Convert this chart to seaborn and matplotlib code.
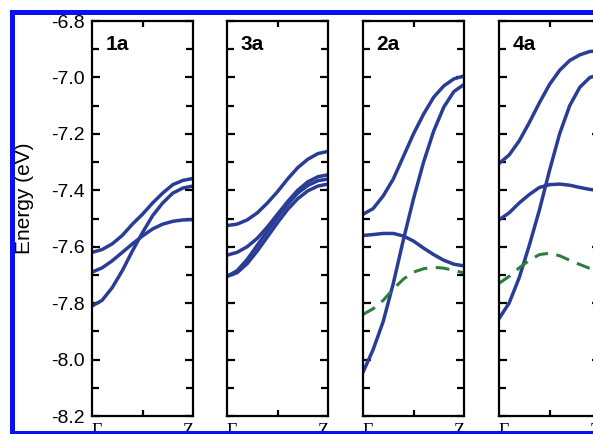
import pandas as pd
import seaborn as sns
import matplotlib.pyplot as plt
from matplotlib.patches import Rectangle
from matplotlib.ticker import MultipleLocator, FixedLocator

# k-path from Gamma (0) to Z (1)
kpath = [0.0, 0.1, 0.2, 0.3, 0.4, 0.5, 0.6, 0.7, 0.8, 0.9, 1.0]

# panel 1a
b1a_1 = [-7.62, -7.61, -7.59, -7.56, -7.52, -7.485, -7.445, -7.41, -7.38, -7.365, -7.358]
b1a_2 = [-7.69, -7.675, -7.65, -7.62, -7.59, -7.562, -7.537, -7.52, -7.51, -7.505, -7.504]
b1a_3 = [-7.81, -7.79, -7.745, -7.685, -7.615, -7.55, -7.49, -7.445, -7.41, -7.392, -7.385]

# panel 3a
b3a_1 = [-7.525, -7.52, -7.505, -7.48, -7.445, -7.405, -7.36, -7.32, -7.29, -7.27, -7.262]
b3a_2 = [-7.63, -7.62, -7.60, -7.57, -7.53, -7.485, -7.44, -7.40, -7.37, -7.352, -7.345]
b3a_3 = [-7.705, -7.685, -7.645, -7.595, -7.545, -7.495, -7.45, -7.41, -7.383, -7.366, -7.36]
b3a_4 = [-7.705, -7.692, -7.66, -7.615, -7.565, -7.515, -7.468, -7.43, -7.402, -7.385, -7.378]

# panel 2a
b2a_1 = [-7.485, -7.465, -7.42, -7.36, -7.28, -7.20, -7.13, -7.07, -7.03, -7.005, -6.995]
b2a_2 = [-8.045, -7.965, -7.865, -7.73, -7.575, -7.43, -7.30, -7.19, -7.105, -7.05, -7.025]
b2a_3 = [-7.56, -7.557, -7.553, -7.553, -7.562, -7.58, -7.605, -7.628, -7.648, -7.662, -7.668]
d2a = [-7.84, -7.82, -7.79, -7.75, -7.715, -7.69, -7.678, -7.673, -7.676, -7.684, -7.693]

# panel 4a
b4a_1 = [-7.305, -7.275, -7.225, -7.16, -7.09, -7.025, -6.975, -6.94, -6.92, -6.908, -6.905]
b4a_2 = [-7.855, -7.80, -7.71, -7.595, -7.47, -7.33, -7.20, -7.10, -7.035, -7.00, -6.99]
b4a_3 = [-7.505, -7.48, -7.445, -7.415, -7.39, -7.38, -7.378, -7.382, -7.39, -7.397, -7.40]
d4a = [-7.73, -7.705, -7.675, -7.648, -7.628, -7.623, -7.632, -7.648, -7.663, -7.677, -7.69]

panels = [
    ("1a", [b1a_1, b1a_2, b1a_3], None),
    ("3a", [b3a_1, b3a_2, b3a_3, b3a_4], None),
    ("2a", [b2a_1, b2a_2, b2a_3], d2a),
    ("4a", [b4a_1, b4a_2, b4a_3], d4a),
]
ylim = (-8.2, -6.8)

sns.set_style("ticks", {"axes.edgecolor": "black", "text.color": "black",
                        "xtick.color": "black", "ytick.color": "black",
                        "axes.labelcolor": "black"})
plt.rcParams['font.family'] = ['Liberation Sans', 'DejaVu Sans']

W, H = 593, 434
fig = plt.figure(figsize=(W / 100, H / 100), dpi=100)

lefts = [92, 227, 363, 499]
blue = "#2a3d96"
green = "#2e7d3c"

for i, (name, bands, dashed) in enumerate(panels):
    ax = fig.add_axes([lefts[i] / W, (H - 416) / H, 101 / W, 395 / H])
    rows = []
    for j, b in enumerate(bands):
        for k, e in zip(kpath, b):
            rows.append({"k": k, "E": e, "band": j})
    df = pd.DataFrame(rows)
    sns.lineplot(data=df, x="k", y="E", units="band", estimator=None,
                 color=blue, lw=2.5, ax=ax, legend=False)
    if dashed is not None:
        dd = pd.DataFrame({"k": kpath, "E": dashed})
        sns.lineplot(data=dd, x="k", y="E", color=green, lw=2.2,
                     dashes=False, ax=ax, legend=False, linestyle=(0, (4.5, 2.8)))
    ax.set_xlim(0, 1)
    ax.set_ylim(*ylim)
    ax.set_xlabel("")
    ax.set_ylabel("")
    for s in ax.spines.values():
        s.set_linewidth(1.6)
        s.set_visible(True)
        s.set_color("black")
    ax.yaxis.set_major_locator(MultipleLocator(0.2))
    ax.yaxis.set_minor_locator(MultipleLocator(0.1))
    ax.tick_params(axis="y", which="both", direction="in", left=True, right=True,
                   width=1.6, labelsize=14, pad=5, colors="black")
    ax.tick_params(axis="y", which="major", length=6)
    ax.tick_params(axis="y", which="minor", length=5)
    ax.xaxis.set_major_locator(FixedLocator([0, 1]))
    ax.xaxis.set_minor_locator(FixedLocator([0.5]))
    ax.tick_params(axis="x", which="major", length=0, pad=5, colors="black")
    ax.tick_params(axis="x", which="minor", direction="in", top=True, bottom=True,
                   length=4, width=1.6)
    ax.set_xticklabels(["Γ", "Z"], family="Liberation Serif", fontsize=13)
    lab = ax.get_xticklabels()
    lab[0].set_ha("left")
    lab[1].set_ha("right")
    if i == 0:
        ax.set_yticklabels([f"{v:.1f}" for v in ax.get_yticks()])
    else:
        ax.tick_params(axis="y", labelleft=False)
    ax.text(0.13, 0.94, name, transform=ax.transAxes, fontsize=15,
            fontweight="bold", va="center", ha="left")

fig.text(25 / W, 1 - 198 / H, "Energy (eV)", rotation=90, fontsize=15,
         ha="center", va="center")

# blue frame of the cropped figure
fig.add_artist(Rectangle((0, 1 - 10 / H), 1, 10 / H, transform=fig.transFigure,
                         facecolor="white", edgecolor="none", zorder=20))
fig.add_artist(Rectangle((0, 0), 10 / W, 1, transform=fig.transFigure,
                         facecolor="white", edgecolor="none", zorder=20))
fig.add_artist(Rectangle((10 / W, 1 - 15 / H), 1, 5 / H, transform=fig.transFigure,
                         facecolor="#0a10f5", edgecolor="none", zorder=21))
fig.add_artist(Rectangle((10 / W, 0), 5 / W, 1 - 10 / H, transform=fig.transFigure,
                         facecolor="#0a10f5", edgecolor="none", zorder=21))
fig.add_artist(Rectangle((10 / W, 0), 1, 3.5 / H, transform=fig.transFigure,
                         facecolor="#0a10f5", edgecolor="none", zorder=21))

fig.savefig("out.png", dpi=100)
